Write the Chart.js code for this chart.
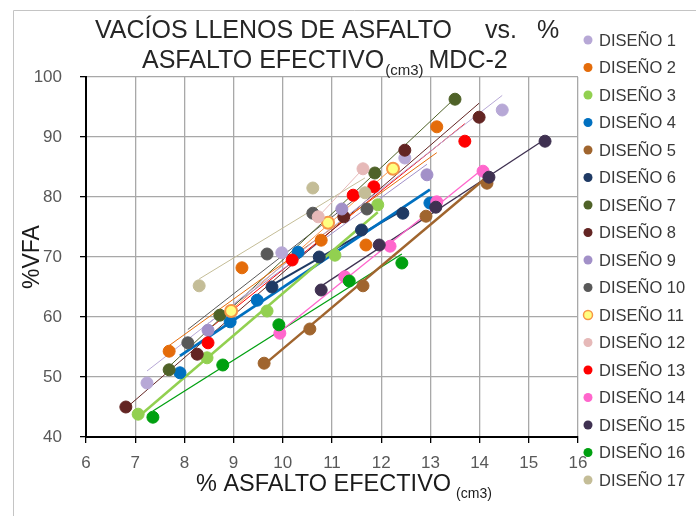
<!DOCTYPE html>
<html>
<head>
<meta charset="utf-8">
<script src="https://cdn.jsdelivr.net/npm/chart.js@4.4.1/dist/chart.umd.min.js"></script>
<style>
    html, body { margin: 0; padding: 0; background: #fff; }
</style>
</head>
<body>
<canvas id="vfaChart" width="696" height="516"></canvas>
<script>
/* values: % asfalto efectivo (x) vs %VFA (y) */
const d1x = [7.24, 9.98, 12.48, 14.46];          const d1y = [49, 70.7, 86.5, 94.5];
const d2x = [7.69, 9.17, 10.78, 11.69, 13.13];   const d2y = [54.3, 68.2, 72.8, 72, 91.7];
const d3x = [7.06, 8.46, 9.68, 11.06, 11.93];    const d3y = [43.8, 53.2, 61, 70.3, 78.7];
const d4x = [7.91, 8.93, 9.48, 10.31, 12.99];    const d4y = [50.7, 59.2, 62.8, 70.8, 79];
const d5x = [9.62, 10.55, 11.63, 12.91, 14.15];  const d5y = [52.3, 58, 65.2, 76.8, 82.3];
const d6x = [9.78, 10.74, 11.6, 12.44];          const d6y = [65, 70, 74.5, 77.3];
const d7x = [7.69, 8.72, 11.87, 13.5];           const d7y = [51.2, 60.3, 84, 96.3];
const d8x = [6.81, 8.26, 11.24, 12.48, 13.99];   const d8y = [45, 53.8, 76.7, 87.8, 93.3];
const d9x = [8.48, 11.2, 12.93];                 const d9y = [57.8, 78, 83.7];
const d10x = [8.07, 9.68, 10.61, 11.71];         const d10y = [55.7, 70.5, 77.3, 78];
const d11x = [8.95, 10.92, 12.24];               const d11y = [61, 75.7, 84.7];
const d12x = [10.72, 11.63];                     const d12y = [76.7, 84.7];
const d13x = [8.48, 10.19, 11.43, 11.85, 13.7];  const d13y = [55.7, 69.5, 80.3, 81.7, 89.3];
const d14x = [9.94, 11.26, 12.18, 13.13, 14.07]; const d14y = [57.3, 66.7, 71.8, 79.2, 84.3];
const d15x = [10.78, 11.96, 13.11, 14.19, 15.33];const d15y = [64.5, 72, 78.3, 83.3, 89.3];
const d16x = [7.36, 8.78, 9.92, 11.35, 12.42];   const d16y = [43.3, 52, 58.7, 66, 69];
const d17x = [8.3, 10.61, 11.67];                const d17y = [65.2, 81.5, 80.7];

const seriesX = [d1x, d2x, d3x, d4x, d5x, d6x, d7x, d8x, d9x, d10x, d11x, d12x, d13x, d14x, d15x, d16x, d17x];
const seriesY = [d1y, d2y, d3y, d4y, d5y, d6y, d7y, d8y, d9y, d10y, d11y, d12y, d13y, d14y, d15y, d16y, d17y];
const seriesNames = ["DISEÑO 1", "DISEÑO 2", "DISEÑO 3", "DISEÑO 4", "DISEÑO 5", "DISEÑO 6", "DISEÑO 7", "DISEÑO 8",
    "DISEÑO 9", "DISEÑO 10", "DISEÑO 11", "DISEÑO 12", "DISEÑO 13", "DISEÑO 14", "DISEÑO 15", "DISEÑO 16", "DISEÑO 17"];

const fills = ["#b7a8d6", "#e46c0a", "#92d050", "#0070c0", "#a0652e", "#1f3a64", "#4f6228", "#632523",
    "#a290c8", "#595959", "#ffff80", "#e6b9b8", "#ff0000", "#ff66cc", "#3f3151", "#00a010", "#c4bd97"];
const edges = fills.map((c, i) => i === 10 ? "#f79646" : c);
const trendWidth = [1, 1, 2.5, 2.8, 2.5, 2, 1, 1, 1, 1, 1, 1, 1, 1.3, 1.3, 1.3, 1];

// least squares trendline over each series' x range
function trend(xs, ys) {
    const n = xs.length;
    const mx = xs.reduce((a, b) => a + b, 0) / n;
    const my = ys.reduce((a, b) => a + b, 0) / n;
    let sxy = 0, sxx = 0;
    for (let i = 0; i < n; i++) {
        sxy += (xs[i] - mx) * (ys[i] - my);
        sxx += (xs[i] - mx) * (xs[i] - mx);
    }
    const b = sxy / sxx, a = my - b * mx;
    const lo = Math.min(...xs), hi = Math.max(...xs);
    return [{ x: lo, y: a + b * lo }, { x: hi, y: a + b * hi }];
}

const datasets = [];
seriesX.forEach((xs, i) => {
    datasets.push({
        label: seriesNames[i],
        data: xs.map((x, k) => ({ x: x, y: seriesY[i][k] })),
        backgroundColor: fills[i],
        borderColor: edges[i],
        borderWidth: i === 10 ? 2 : 1,
        pointRadius: 6,
        pointHoverRadius: 6,
        showLine: false,
        order: 20 - i
    });
});
seriesX.forEach((xs, i) => {
    datasets.push({
        label: "trend " + (i + 1),
        data: trend(xs, seriesY[i]),
        borderColor: edges[i],
        borderWidth: trendWidth[i],
        pointRadius: 0,
        showLine: true,
        fill: false,
        order: 100
    });
});

/*TITLES, LEGEND, FRAME*/
const textsPlugin = {
    id: "texts",
    afterDraw(chart) {
        const ctx = chart.ctx;
        ctx.save();
        ctx.strokeStyle = "#c4c4c4";
        ctx.lineWidth = 1;
        ctx.beginPath();
        ctx.moveTo(13.5, 516);
        ctx.lineTo(13.5, 10.5);
        ctx.lineTo(696, 10.5);
        ctx.stroke();

        ctx.fillStyle = "#262626";
        ctx.textAlign = "left";
        ctx.textBaseline = "alphabetic";
        ctx.font = "25px 'Liberation Sans'";
        ctx.fillText("VACÍOS LLENOS DE ASFALTO", 95, 38);
        ctx.fillText("vs.", 485, 38);
        ctx.fillText("%", 537, 38);
        ctx.fillText("ASFALTO EFECTIVO", 142, 68);
        let w = ctx.measureText("ASFALTO EFECTIVO").width;
        ctx.font = "15px 'Liberation Sans'";
        ctx.fillText("(cm3)", 142 + w + 1, 75);
        let w2 = ctx.measureText("(cm3)").width;
        ctx.font = "25px 'Liberation Sans'";
        ctx.fillText("MDC-2", 142 + w + w2 + 6, 68);

        // x axis title
        ctx.fillStyle = "#1a1a1a";
        ctx.font = "23.5px 'Liberation Sans'";
        ctx.fillText("% ASFALTO EFECTIVO", 196, 491);
        w = ctx.measureText("% ASFALTO EFECTIVO").width;
        ctx.font = "14px 'Liberation Sans'";
        ctx.fillText("(cm3)", 196 + w + 5, 498);

        // y axis title
        ctx.save();
        ctx.translate(39, 257);
        ctx.rotate(-Math.PI / 2);
        ctx.font = "23px 'Liberation Sans'";
        ctx.textAlign = "center";
        ctx.fillText("%VFA", 0, 0);
        ctx.restore();

        // legend
        ctx.font = "16.5px 'Liberation Sans'";
        ctx.textBaseline = "middle";
        seriesNames.forEach((name, i) => {
            const y = 40 + i * 27.5;
            ctx.beginPath();
            ctx.arc(588, y, 4.5, 0, Math.PI * 2);
            ctx.fillStyle = fills[i];
            ctx.fill();
            if (i === 10) {
                ctx.strokeStyle = edges[i];
                ctx.lineWidth = 1.5;
                ctx.stroke();
            }
            ctx.fillStyle = "#3a3a3a";
            ctx.fillText(name, 599, y + 1);
        });
        ctx.restore();
    }
};

new Chart(document.getElementById("vfaChart"), {
    type: "scatter",
    data: { datasets: datasets },
    options: {
        responsive: false,
        animation: false,
        layout: { padding: { left: 0, top: 77, right: 118, bottom: 0 } },
        plugins: {
            legend: { display: false },
            tooltip: { enabled: false }
        },
        scales: {
            x: {
                type: "linear",
                min: 6,
                max: 16,
                afterFit: s => { s.height = 79; },
                ticks: { stepSize: 1, color: "#595959", padding: 10, font: { family: "Liberation Sans", size: 17 } },
                grid: { color: "#a8a8a8", lineWidth: 1.3, tickColor: "#000", tickLength: 6 },
                border: { color: "#000", width: 2 }
            },
            y: {
                min: 40,
                max: 100,
                afterFit: s => { s.width = 86; },
                ticks: { stepSize: 10, color: "#595959", padding: 18, font: { family: "Liberation Sans", size: 17 } },
                grid: { color: "#a8a8a8", lineWidth: 1.3, tickColor: "#000", tickLength: 6 },
                border: { color: "#000", width: 2 }
            }
        }
    },
    plugins: [textsPlugin]
});
</script>
</body>
</html>
